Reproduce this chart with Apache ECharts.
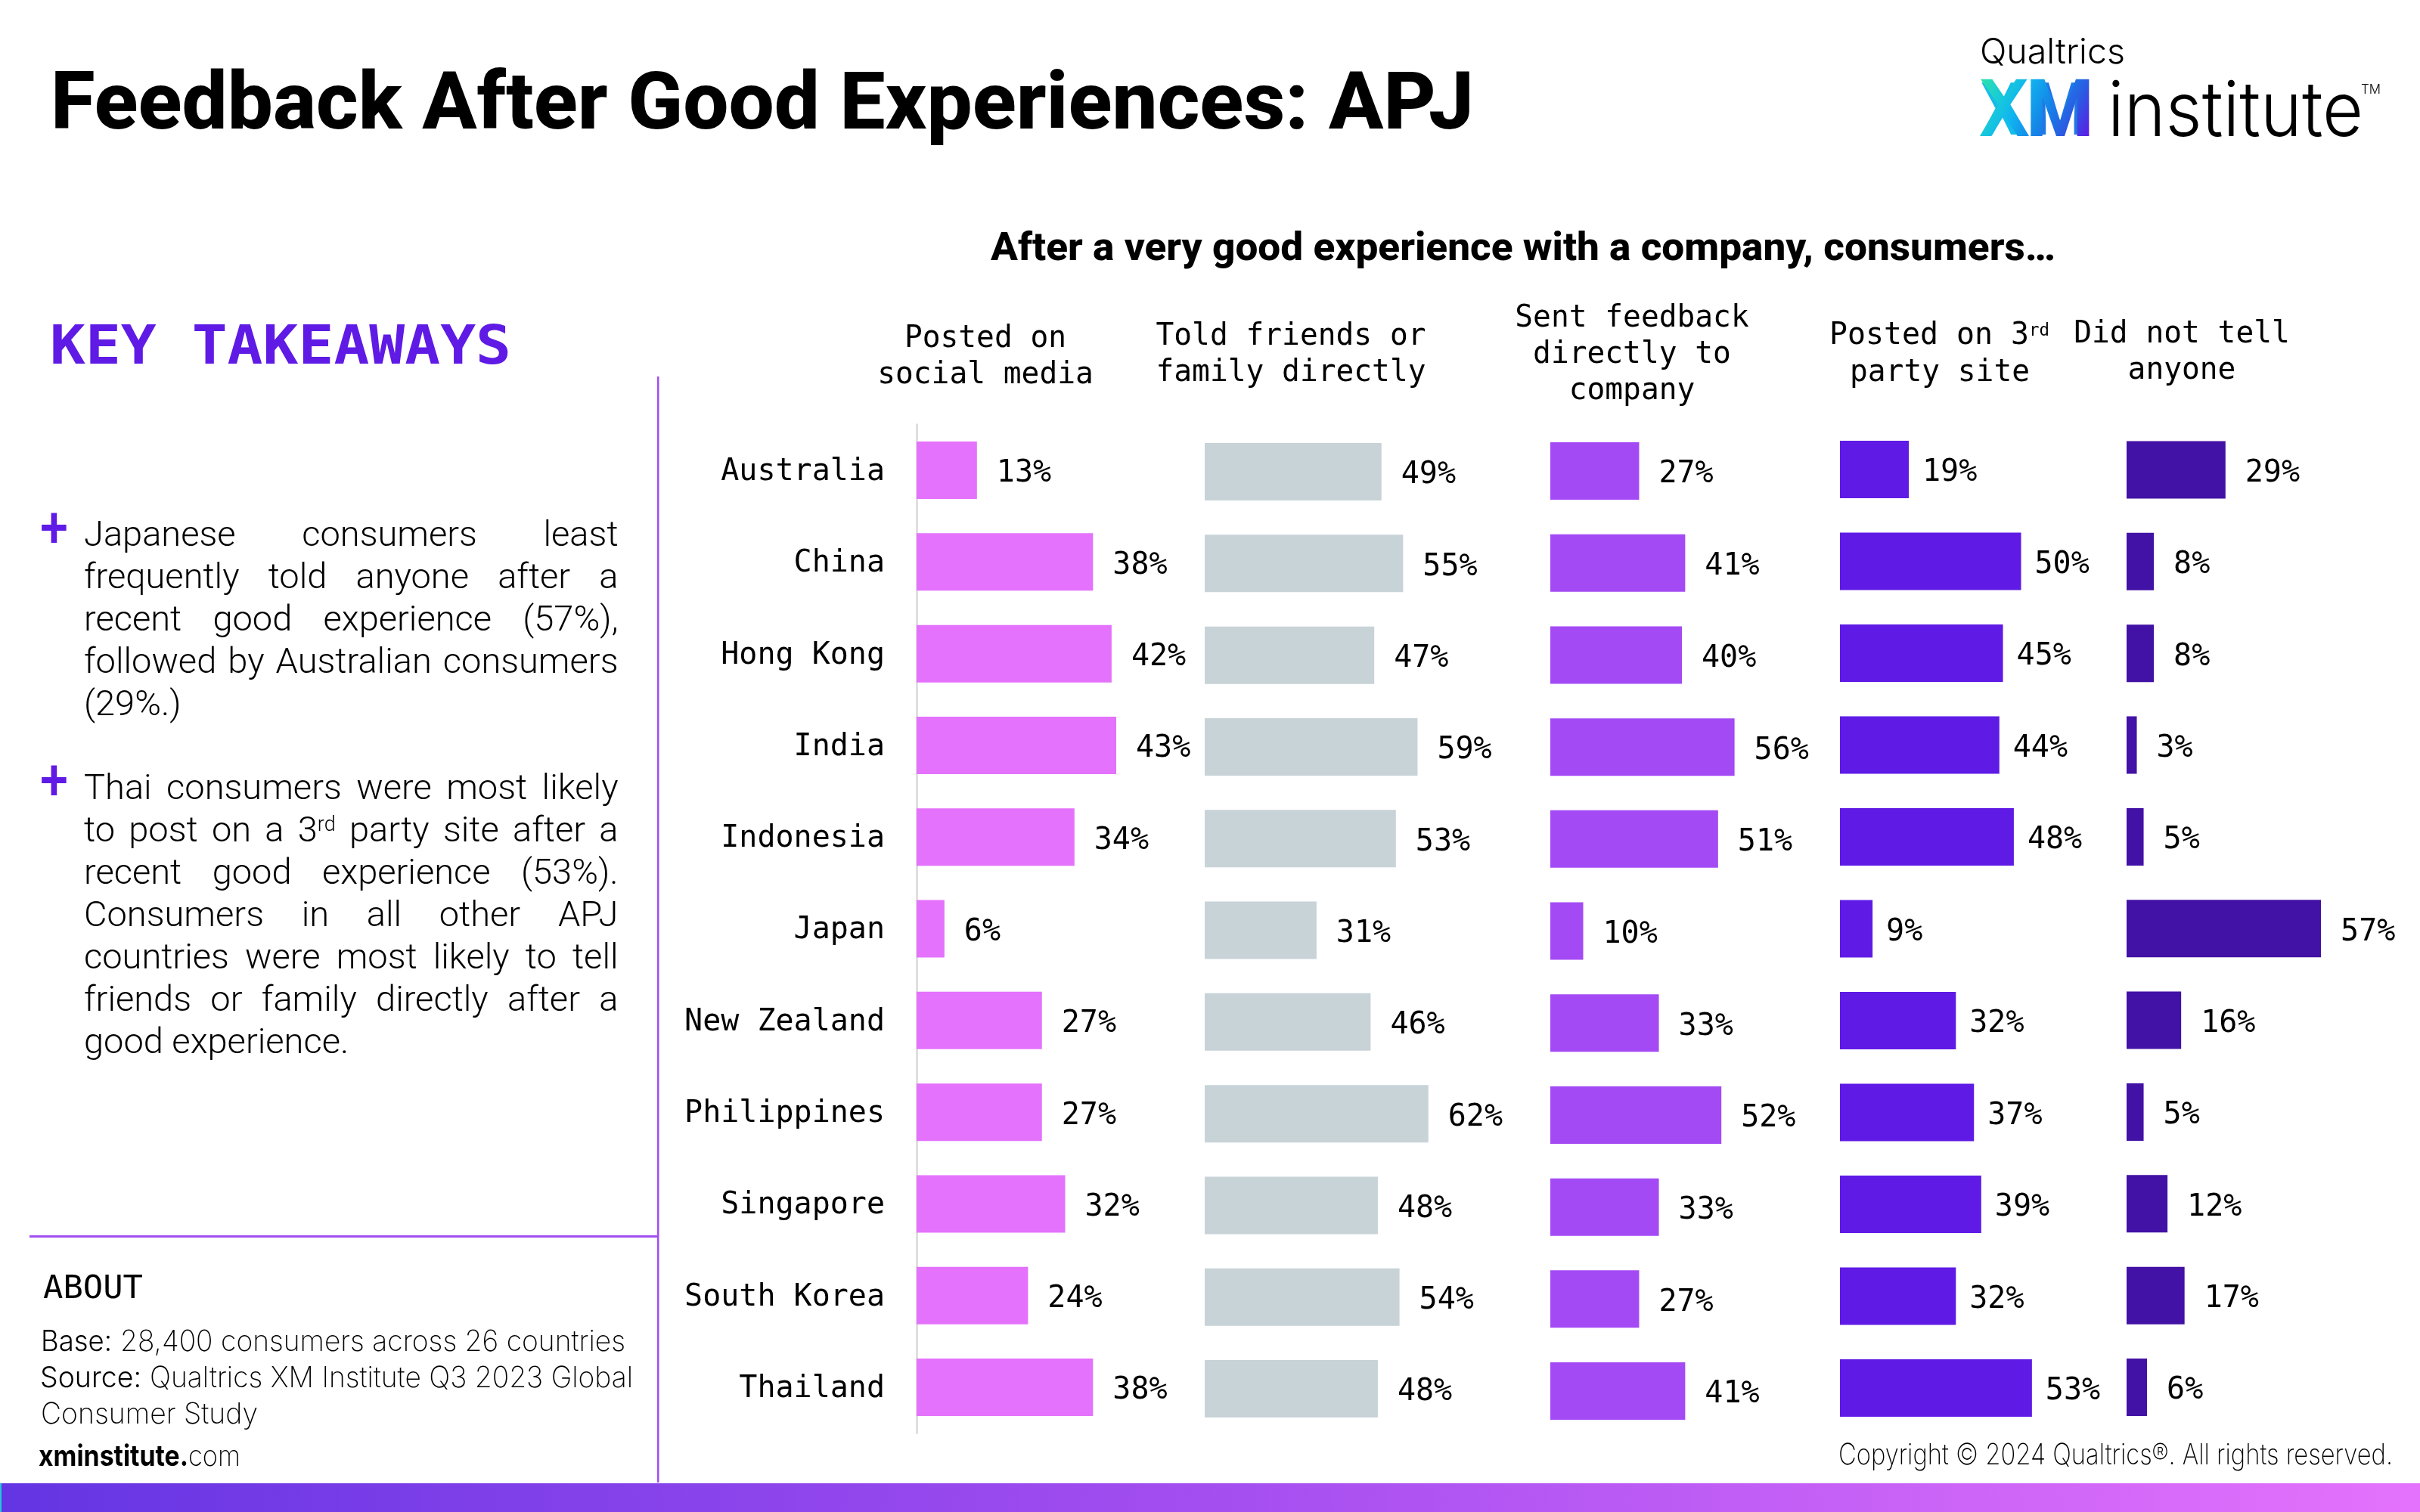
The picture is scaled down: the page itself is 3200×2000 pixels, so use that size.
<!DOCTYPE html>
<html>
<head>
<meta charset="utf-8">
<title>Feedback After Good Experiences: APJ</title>
<script src="https://cdn.jsdelivr.net/npm/echarts@6/dist/echarts.min.js"></script>
<style>
  html, body { margin: 0; padding: 0; background: #fff; }
  #chart { width: 3200px; height: 2000px; }
</style>
</head>
<body>
<div id="chart"></div>
<script>
var countries = ['Australia', 'China', 'Hong Kong', 'India', 'Indonesia', 'Japan', 'New Zealand', 'Philippines', 'Singapore', 'South Korea', 'Thailand'];

var postedSocial = [13, 38, 42, 43, 34, 6, 27, 27, 32, 24, 38];
var toldFriends = [49, 55, 47, 59, 53, 31, 46, 62, 48, 54, 48];
var sentFeedback = [27, 41, 40, 56, 51, 10, 33, 52, 33, 27, 41];
var postedThird = [19, 50, 45, 44, 48, 9, 32, 37, 39, 32, 53];
var didNotTell = [29, 8, 8, 3, 5, 57, 16, 5, 12, 17, 6];

var takeawayOne = ['Japanese consumers least', 'frequently told anyone after a', 'recent good experience (57%),', 'followed by Australian consumers', '(29%.)'];
var takeawayTwo = ['Thai consumers were most likely', 'to post on a 3^rd party site after a', 'recent good experience (53%).', 'Consumers in all other APJ', 'countries were most likely to tell', 'friends or family directly after a', 'good experience.'];

var MONO = '"DejaVu Sans Mono", "Liberation Mono", monospace';
var ROBOTO = 'Roboto, sans-serif';
var INTER = 'Inter, sans-serif';

// one entry per small multiple: where it sits and how many px one percent is
var columns = [
  { data: postedSocial, color: '#E472FC', left: 1212, top: 561.4, rowH: 121.3, pct: 6.14, gap: 26 },
  { data: toldFriends, color: '#C8D3D8', left: 1593, top: 563.4, rowH: 121.3, pct: 4.77, gap: 26 },
  { data: sentFeedback, color: '#A44AF4', left: 2050, top: 562.2, rowH: 121.7, pct: 4.35, gap: 26 },
  { data: postedThird, color: '#5F1AE5', left: 2433, top: 560.2, rowH: 121.5, pct: 4.79, gap: 18 },
  { data: didNotTell, color: '#4211A5', left: 2812, top: 560.8, rowH: 121.35, pct: 4.51, gap: 26 }
];

var ctx = document.createElement('canvas').getContext('2d');
var gfx = [];

function widthOf(s, size, weight, family) {
  ctx.font = weight + ' ' + size + 'px ' + family;
  return ctx.measureText(s).width;
}

// distance from the middle line zrender draws on down to the baseline
function baseOffset(size, weight, family) {
  ctx.font = weight + ' ' + size + 'px ' + family;
  ctx.textBaseline = 'middle';
  return Math.abs(ctx.measureText('x').alphabeticBaseline);
}

// text placed by its baseline, squeezed to fit a measured width when one is given
function put(s, x, base, size, weight, family, color, opt) {
  opt = opt || {};
  var el = {
    type: 'text',
    silent: true,
    x: x,
    y: base - baseOffset(size, weight, family),
    style: {
      text: s,
      x: 0,
      y: 0,
      fill: color,
      font: weight + ' ' + size + 'px ' + family,
      textAlign: opt.align || 'left',
      textVerticalAlign: 'middle'
    }
  };
  if (opt.width) el.scaleX = opt.width / widthOf(s, size, weight, family);
  gfx.push(el);
}

function rect(x, y, w, h, fill) {
  gfx.push({ type: 'rect', silent: true, shape: { x: x, y: y, width: w, height: h }, style: { fill: fill } });
}

// the body copy is justified, so words get laid out one by one
function justified(line, base, isLast) {
  var size = 47, left = 111, right = 817.5;
  var supSize = 27;
  var words = line.split(' ');
  var widths = words.map(function (w) {
    var p = w.split('^');
    return widthOf(p[0], size, 300, ROBOTO) + (p[1] ? widthOf(p[1], supSize, 300, ROBOTO) : 0);
  });
  var sum = widths.reduce(function (a, b) { return a + b; }, 0);
  var space = isLast ? widthOf(' ', size, 300, ROBOTO) : (right - left - sum) / (words.length - 1);
  var x = left;
  words.forEach(function (w, i) {
    var p = w.split('^');
    put(p[0], x, base, size, 300, ROBOTO, '#000');
    if (p[1]) put(p[1], x + widthOf(p[0], size, 300, ROBOTO), base - 14, supSize, 300, ROBOTO, '#000');
    x += widths[i] + space;
  });
}

function paragraph(lines, firstBase) {
  lines.forEach(function (line, i) {
    justified(line, firstBase + i * 56, i === lines.length - 1);
  });
}

function header(line, cx, base) {
  put(line, cx, base + 1, 40, 400, MONO, '#000', { align: 'center', width: line.length * 23.8 });
}

// zrender only fills text with plain colours, so the logo's gradient letters are
// traced on top of the real text
var logoGradient = new echarts.graphic.LinearGradient(2617, 105, 2763, 180, [
  { offset: 0, color: '#2FE3A8' },
  { offset: 0.21, color: '#18CBD8' },
  { offset: 0.37, color: '#10B4F0' },
  { offset: 0.58, color: '#1488E8' },
  { offset: 0.79, color: '#2A5CE2' },
  { offset: 1, color: '#5F1AE5' }
], true);

function logoLetter(points) {
  gfx.push({
    type: 'polygon',
    silent: true,
    shape: {
      points: points.map(function (p) { return [2610 + p[0] / 3, 100 + p[1] / 3]; })
    },
    style: { fill: logoGradient }
  });
}

// title and logo
put('Feedback After Good Experiences: APJ', 67, 170, 105, 800, ROBOTO, '#000', { width: 1882 });
put('Qualtrics', 2618, 84, 46, 300, INTER, '#000', { width: 192 });
put('X', 2619, 178, 96, 700, ROBOTO, '#14BCE8', { width: 56 });
put('M', 2688, 178, 96, 700, ROBOTO, '#1F78E6', { width: 72 });
logoLetter([[27, 14], [73, 14], [121, 85], [168, 14], [212, 14], [145, 115], [219, 240], [173, 240], [121, 155], [70, 240], [24, 240], [97, 116]]);
logoLetter([[226, 14], [280, 14], [343, 180], [405, 14], [457, 14], [457, 240], [410, 240], [410, 85], [360, 240], [327, 240], [272, 85], [272, 240], [226, 240]]);
put('institute', 2787, 180, 100, 300, INTER, '#000', { width: 338 });
put('TM', 3122, 124, 17, 300, INTER, '#000', { width: 26 });

// chart heading and column headers
put('After a very good experience with a company, consumers\u2026', 1310, 344, 52, 800, ROBOTO, '#000', { width: 1408 });
header('Posted on', 1303, 458);
header('social media', 1303, 506);
header('Told friends or', 1707, 455);
header('family directly', 1707, 503);
header('Sent feedback', 2158, 431);
header('directly to', 2158, 479);
header('company', 2158, 527);
put('Posted on 3', 2419, 455, 40, 400, MONO, '#000', { width: 264 });
put('rd', 2683, 444, 23, 400, MONO, '#000', { width: 27 });
header('party site', 2565, 503);
header('Did not tell', 2885, 452);
header('anyone', 2885, 500);

// left panel
put('KEY TAKEAWAYS', 66, 481, 72, 700, MONO, '#5F1AE5', { width: 610 });
put('+', 53, 724, 76, 500, ROBOTO, '#5F1AE5', { width: 37 });
put('+', 53, 1058, 76, 500, ROBOTO, '#5F1AE5', { width: 37 });
paragraph(takeawayOne, 722);
paragraph(takeawayTwo, 1057);

rect(869, 498, 2.5, 1463, '#A44EF0');
rect(39, 1634, 831, 3, '#A44EF0');

put('ABOUT', 57, 1717, 43, 400, MONO, '#000', { width: 132 });
put('Base:', 54, 1787, 38.5, 300, INTER, '#000', { width: 94 });
put('28,400 consumers across 26 countries', 159, 1787, 38.5, 200, INTER, '#000', { width: 668 });
put('Source:', 53, 1835, 38.5, 300, INTER, '#000', { width: 134 });
put('Qualtrics XM Institute Q3 2023 Global', 198, 1835, 38.5, 200, INTER, '#000', { width: 639 });
put('Consumer Study', 54, 1883, 38.5, 200, INTER, '#000', { width: 287 });
put('xminstitute.', 51, 1939, 38.5, 700, INTER, '#000', { width: 198 });
put('com', 249, 1939, 38.5, 200, INTER, '#000', { width: 69 });
put('Copyright \u00A9 2024 Qualtrics\u00AE. All rights reserved.', 2431, 1937, 38.5, 200, INTER, '#000', { width: 733 });

// footer band
gfx.push({
  type: 'rect',
  silent: true,
  shape: { x: 0, y: 1962, width: 3200, height: 38 },
  style: {
    fill: new echarts.graphic.LinearGradient(0, 0, 1, 0, [
      { offset: 0, color: '#6435E3' },
      { offset: 0.5, color: '#A44EF0' },
      { offset: 1, color: '#E472FC' }
    ])
  }
});
rect(0, 1962, 2, 38, '#1FC9D6');

var option = {
  backgroundColor: '#fff',
  animation: false,
  grid: columns.map(function (c) {
    return { left: c.left, top: c.top, width: 70 * c.pct, height: c.rowH * countries.length };
  }),
  xAxis: columns.map(function (c, i) {
    return { type: 'value', gridIndex: i, min: 0, max: 70, show: false };
  }),
  yAxis: columns.map(function (c, i) {
    return {
      type: 'category',
      gridIndex: i,
      inverse: true,
      data: countries,
      show: i === 0,
      offset: 1,
      axisTick: { show: false },
      axisLine: { show: true, lineStyle: { color: '#D9D9D9', width: 2.5 } },
      axisLabel: {
        margin: 41,
        formatter: '{name|{value}}',
        rich: {
          // nudges the country names down to the reference's baseline
          name: { fontFamily: MONO, fontSize: 40, color: '#000', padding: [5, 0, 0, 0] }
        }
      }
    };
  }),
  series: columns.map(function (c, i) {
    return {
      type: 'bar',
      xAxisIndex: i,
      yAxisIndex: i,
      data: c.data,
      barWidth: 76,
      itemStyle: { color: c.color },
      label: {
        show: true,
        position: 'right',
        distance: c.gap,
        offset: [0, 5],
        formatter: '{c}%',
        fontFamily: MONO,
        fontSize: 40,
        color: '#000'
      }
    };
  }),
  graphic: { elements: gfx }
};

var chart = echarts.init(document.getElementById('chart'));
chart.setOption(option);
</script>
</body>
</html>
